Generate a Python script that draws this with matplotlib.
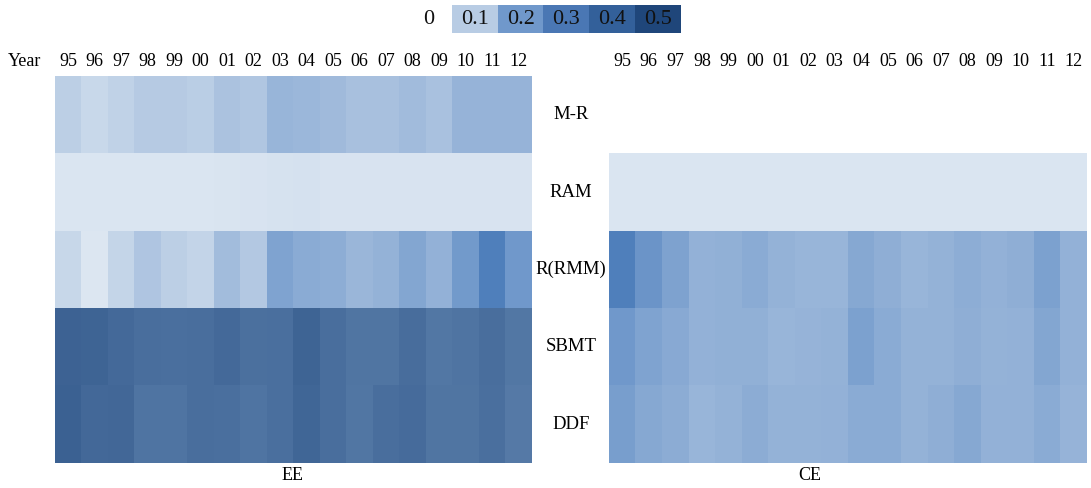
import numpy as np
import matplotlib
matplotlib.use('Agg')
import matplotlib.pyplot as plt
from matplotlib.colors import LinearSegmentedColormap, ListedColormap

plt.rcParams['font.family'] = ['Liberation Serif', 'DejaVu Serif']

years = ['95', '96', '97', '98', '99', '00', '01', '02', '03',
         '04', '05', '06', '07', '08', '09', '10', '11', '12']
methods = ['M-R', 'RAM', 'R(RMM)', 'SBMT', 'DDF']

# EE panel
ee_mr = [0.094, 0.077, 0.089, 0.103, 0.103, 0.097, 0.118, 0.110, 0.144,
         0.140, 0.133, 0.122, 0.122, 0.131, 0.120, 0.147, 0.147, 0.147]
ee_ram = [0.052, 0.052, 0.052, 0.052, 0.052, 0.052, 0.054, 0.055, 0.058,
          0.060, 0.056, 0.056, 0.056, 0.056, 0.056, 0.056, 0.056, 0.056]
ee_rrmm = [0.080, 0.050, 0.083, 0.113, 0.094, 0.085, 0.129, 0.107, 0.179,
           0.163, 0.160, 0.142, 0.149, 0.172, 0.151, 0.196, 0.280, 0.200]
ee_sbmt = [0.392, 0.385, 0.365, 0.342, 0.338, 0.342, 0.362, 0.335, 0.338,
           0.385, 0.342, 0.315, 0.315, 0.346, 0.308, 0.319, 0.342, 0.308]
ee_ddf = [0.400, 0.369, 0.373, 0.319, 0.319, 0.342, 0.338, 0.319, 0.338,
          0.377, 0.342, 0.312, 0.342, 0.354, 0.315, 0.315, 0.338, 0.300]

# CE panel (M-R not available)
ce_mr = [np.nan] * 18
ce_ram = [0.052] * 18
ce_rrmm = [0.280, 0.212, 0.180, 0.151, 0.153, 0.164, 0.150, 0.144, 0.144,
           0.169, 0.158, 0.144, 0.149, 0.160, 0.151, 0.157, 0.183, 0.151]
ce_sbmt = [0.200, 0.178, 0.167, 0.151, 0.154, 0.153, 0.144, 0.147, 0.150,
           0.183, 0.164, 0.149, 0.149, 0.158, 0.150, 0.151, 0.172, 0.151]
ce_ddf = [0.189, 0.169, 0.162, 0.144, 0.149, 0.162, 0.150, 0.150, 0.151,
          0.164, 0.163, 0.150, 0.158, 0.168, 0.151, 0.151, 0.164, 0.147]

legend_vals = [0, 0.1, 0.2, 0.3, 0.4, 0.5]
legend_colors = ['#ffffff', '#b8cce4', '#7098cb', '#4a77b4', '#33609a', '#1f467a']

cmap = LinearSegmentedColormap.from_list('cells', [
    (0.0, '#ffffff'), (0.2, '#b8cce4'), (0.4, '#7098cb'), (0.56, '#4f80bc'),
    (0.6, '#5579a6'), (0.8, '#3b6192'), (1.0, '#1f4577')])
cmap.set_bad('white')

ee = np.array([ee_mr, ee_ram, ee_rrmm, ee_sbmt, ee_ddf])
ce = np.array([ce_mr, ce_ram, ce_rrmm, ce_sbmt, ce_ddf])

fig = plt.figure(figsize=(10.91, 4.88), dpi=100)
ax1 = fig.add_axes([55 / 1091, 25 / 488, 477 / 1091, 387 / 488])
ax2 = fig.add_axes([609 / 1091, 25 / 488, 478 / 1091, 387 / 488])

for ax, data in [(ax1, ee), (ax2, ce)]:
    ax.imshow(np.ma.masked_invalid(data), cmap=cmap, vmin=0, vmax=0.5, aspect='auto')
    ax.set_xticks(range(len(years)))
    ax.set_xticklabels(years, fontsize=13)
    ax.xaxis.tick_top()
    ax.tick_params(length=0, pad=4)
    ax.set_yticks([])
    for s in ax.spines.values():
        s.set_visible(False)

fig.text(293 / 1091, 1 - 476 / 488, 'EE', ha='center', va='center', fontsize=13)
fig.text(810 / 1091, 1 - 476 / 488, 'CE', ha='center', va='center', fontsize=13)

for i, m in enumerate(methods):
    ax1.text(1.082, i, m, transform=ax1.get_yaxis_transform(), ha='center',
             va='center', fontsize=13.5)

fig.text(25 / 1091, 1 - 62 / 488, 'Year', ha='center', va='center', fontsize=13)

# legend strip
lax = fig.add_axes([406 / 1091, 455 / 488, 275 / 1091, 28 / 488])
lax.imshow([list(range(len(legend_vals)))], cmap=ListedColormap(legend_colors),
           vmin=-0.5, vmax=len(legend_vals) - 0.5, aspect='auto')
for i, v in enumerate(legend_vals):
    lax.text(i, 0, f'{v:g}', ha='center', va='center', fontsize=16, color='#111111')
lax.axis('off')

fig.savefig('out.png', dpi=100)
